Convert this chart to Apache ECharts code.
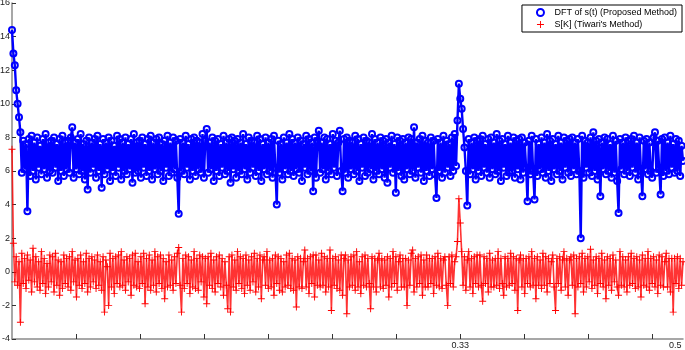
<!DOCTYPE html>
<html>
<head>
<meta charset="utf-8">
<script src="https://cdn.jsdelivr.net/npm/echarts@6/dist/echarts.min.js"></script>
<style>
  html, body { margin: 0; padding: 0; background: #fff; }
  #chart { width: 685px; height: 350px; }
</style>
</head>
<body>
<div id="chart"></div>
<script>
  // DFT of s(t) (Proposed Method)
  var dftValues = [
    14.4, 13.0, 12.3, 10.8, 10.0, 9.2, 8.3, 5.9, 7.8, 6.1, 7.6, 3.6, 7.9, 5.7, 8.1, 6.0, 7.7, 5.5, 8.0, 6.2,
    7.5, 5.8, 7.9, 6.1, 8.2, 5.6, 7.7, 6.0, 7.8, 5.9, 8.0, 6.2, 7.6, 5.4, 7.9, 6.0, 8.1, 5.7, 7.7, 6.1,
    7.8, 5.9, 8.0, 8.6, 5.6, 7.7, 6.1, 7.9, 5.8, 8.2, 6.0, 7.6, 5.5, 7.8, 4.9, 8.0, 5.9, 7.7, 6.2, 7.9,
    5.6, 8.1, 6.0, 7.6, 5.0, 7.9, 5.8, 7.7, 6.1, 8.0, 5.4, 7.8, 6.0, 7.5, 5.7, 8.1, 6.2, 7.9, 5.5, 7.7,
    6.0, 8.0, 5.8, 7.6, 6.1, 7.9, 5.3, 8.2, 5.9, 7.7, 6.0, 7.8, 5.6, 8.0, 6.2, 7.6, 5.7, 7.9, 6.0, 8.1,
    5.5, 7.7, 6.1, 7.9, 5.8, 8.0, 6.0, 7.6, 5.4, 7.8, 6.2, 8.1, 5.7, 7.7, 5.9, 8.0, 6.1, 7.8, 5.6, 3.45,
    7.9, 6.0, 7.7, 5.8, 8.1, 6.2, 7.6, 5.5, 7.9, 6.0, 8.0, 5.7, 7.8, 6.1, 7.7, 5.9, 8.2, 5.6, 7.8, 8.5,
    5.9, 7.7, 6.1, 8.0, 5.4, 7.8, 6.0, 7.9, 5.7, 7.6, 6.2, 8.1, 5.8, 7.7, 6.0, 7.9, 5.3, 8.0, 6.1, 7.8,
    5.6, 7.9, 6.0, 7.7, 5.8, 8.2, 6.1, 7.6, 5.5, 8.0, 5.9, 7.8, 6.2, 7.7, 5.7, 8.1, 6.0, 7.9, 5.4, 7.6,
    6.1, 8.0, 5.8, 7.7, 6.0, 7.9, 5.6, 8.1, 6.2, 4.0, 7.8, 5.9, 7.6, 5.5, 8.0, 6.1, 7.7, 5.8, 8.2, 6.0,
    7.9, 5.7, 7.7, 6.1, 8.0, 5.9, 7.8, 5.4, 7.6, 6.2, 8.1, 5.8, 7.9, 6.0, 7.7, 4.8, 8.0, 5.6, 7.8, 8.4,
    5.9, 7.7, 6.1, 8.0, 5.5, 7.9, 6.0, 7.6, 5.8, 8.2, 6.2, 7.8, 5.7, 7.7, 8.4, 6.0, 4.8, 7.9, 5.9, 8.0,
    5.6, 7.8, 6.1, 7.7, 5.8, 8.1, 6.0, 7.9, 5.4, 7.6, 6.2, 8.0, 5.7, 7.8, 5.9, 7.7, 6.1, 8.2, 5.5, 7.9,
    6.0, 7.7, 5.8, 8.0, 6.1, 7.8, 5.6, 7.9, 5.3, 7.7, 6.2, 8.1, 5.9, 7.6, 4.7, 8.0, 6.0, 7.8, 5.7, 7.9,
    5.5, 7.7, 6.1, 8.0, 5.8, 7.9, 6.0, 8.6, 5.6, 7.7, 6.2, 7.9, 5.9, 8.1, 5.4, 7.8, 6.0, 7.7, 5.7, 8.0,
    6.1, 7.8, 5.8, 4.4, 7.9, 6.0, 7.7, 5.6, 8.1, 5.9, 7.8, 6.2, 7.6, 5.7, 8.0, 6.0, 8.2, 6.3, 9.0, 11.2,
    10.3, 9.7, 8.5, 7.4, 6.0, 3.95, 7.9, 5.8, 7.7, 6.1, 8.0, 5.5, 7.8, 6.0, 7.9, 5.7, 8.1, 6.2, 7.6, 5.9,
    7.9, 5.6, 8.0, 6.1, 7.7, 5.8, 8.2, 6.0, 7.8, 5.4, 7.9, 6.2, 7.6, 5.7, 8.1, 5.9, 7.7, 6.0, 8.0, 5.6,
    7.8, 6.1, 7.9, 5.5, 8.0, 5.9, 7.7, 6.2, 4.2, 7.8, 5.8, 8.1, 6.0, 4.3, 7.9, 5.7, 7.6, 6.1, 8.0, 5.9,
    7.7, 5.6, 8.2, 6.0, 7.8, 5.4, 7.9, 6.1, 7.6, 5.8, 8.1, 6.0, 7.7, 5.5, 8.0, 6.2, 7.8, 5.9, 7.9, 5.7,
    8.0, 6.1, 7.7, 5.8, 7.9, 6.0, 2.0, 8.1, 5.6, 7.8, 6.2, 7.7, 5.9, 8.0, 5.7, 8.3, 6.0, 7.8, 5.5, 7.9,
    4.5, 7.7, 6.1, 8.0, 5.8, 7.9, 6.0, 7.6, 5.6, 8.1, 5.9, 7.8, 5.4, 3.5, 7.9, 6.1, 7.7, 5.8, 8.0, 6.0,
    7.8, 5.7, 7.9, 6.2, 8.1, 5.9, 7.7, 5.5, 8.0, 6.0, 4.5, 7.8, 6.1, 7.9, 5.8, 7.7, 6.0, 5.6, 8.0, 8.3,
    5.9, 7.8, 6.1, 4.6, 7.9, 5.7, 8.0, 6.0, 7.7, 5.8, 8.1, 6.2, 7.6, 5.9, 7.9, 6.0, 7.8, 5.7, 7.5, 6.6
  ];

  // S[K] (Tiwari's Method)
  var skValues = [
    7.3, 1.7, -0.6, 0.9, -0.8, 0.6, -3.0, 1.1, -0.7, 0.8, -1.0, 1.0, -0.5, 0.7, -1.2, 1.4, -0.6, 0.9, -0.9, 0.6,
    -1.1, 1.2, -0.7, 0.8, -1.3, 0.5, -0.9, 1.0, -0.6, 0.9, -1.2, 1.1, -0.8, 0.7, -1.4, 0.6, -1.0, 1.0, -0.7, 0.8,
    -0.9, 0.9, -1.1, 1.2, -0.6, 0.7, -1.5, 0.8, -0.8, 1.0, -1.0, 0.6, -0.7, 1.1, -1.2, 0.8, -0.9, 0.9, -0.6, 0.7,
    -1.0, 1.0, -0.8, 0.6, -1.1, 0.9, -2.4, 0.7, 0.3, -2.0, 1.1, -0.9, 0.8, -1.3, 0.9, -0.7, 1.0, -0.9, 1.2, -0.8,
    0.7, -1.1, 0.9, -0.6, 0.8, -1.4, 1.0, -0.8, 1.1, -0.9, 0.6, -1.0, 0.9, -0.7, 1.1, -1.9, 0.8, -0.9, 1.0, -1.1,
    0.7, -0.8, 1.2, -1.2, 0.9, -0.7, 1.0, -1.0, 0.8, -1.6, 0.6, -0.9, 1.0, -0.8, 0.7, -1.1, 0.9, -0.7, 1.1, 1.45,
    -0.8, -2.4, 0.8, -1.0, 1.0, -0.7, 0.9, -1.3, 0.7, -0.9, 1.2, -1.0, 0.8, -1.1, 1.0, -0.6, 0.9, -1.5, 0.8, -1.9,
    0.9, -0.8, 1.1, -1.0, 0.7, -1.2, 0.9, -0.7, 1.0, -0.9, 0.8, -1.4, 0.6, -0.8, -2.2, 0.9, -2.4, 1.0, -0.9, 0.7,
    -1.1, 1.2, -0.7, 0.9, -1.0, 0.8, -1.3, 1.0, -0.8, 0.7, -1.1, 0.9, -0.6, 1.1, -1.2, 0.8, -0.9, 1.0, -1.6, 0.7,
    0.9, -0.8, 1.2, -1.0, 0.7, -0.9, 0.8, -1.4, 1.0, -0.7, 0.9, -1.1, 0.8, -1.2, 0.6, -0.9, 1.0, -0.8, 1.1, -1.0,
    0.8, -1.1, 0.7, -2.1, 0.9, -0.9, 0.8, -1.0, 0.6, 1.3, -0.9, 0.8, -1.3, 0.9, -0.7, 1.0, -1.5, 1.0, -0.8, 0.7,
    -0.9, 1.1, -0.8, 0.9, -1.2, 0.8, -0.9, 1.3, -2.3, 0.8, -0.8, 0.9, -1.0, 0.7, -1.1, 1.0, -1.4, 0.8, 1.0, -2.5,
    0.7, -0.9, 0.9, -0.8, 1.0, -1.1, 1.2, -0.9, 0.6, -1.3, 0.9, -0.8, 1.0, -0.9, 0.8, -0.7, -2.2, 0.9, -0.9, 0.8,
    -1.2, 0.7, 1.1, -0.9, 0.8, -1.0, 0.7, -0.8, 0.9, -1.5, 0.8, -0.9, 1.2, -0.7, 0.9, -1.1, 0.6, 1.0, -0.9, 0.8,
    -0.9, 0.8, -2.0, 0.7, -0.8, 1.1, 1.3, -1.2, 0.8, -0.9, 0.9, -0.7, 1.0, -1.4, 0.7, -0.9, 1.0, -0.9, 0.8, -0.7,
    0.8, -1.3, 0.9, -0.8, 1.1, -0.9, 0.8, -1.0, 0.7, 0.9, -0.8, -2.0, 0.9, -0.7, 1.0, -0.9, 0.6, 0.9, 1.8, 4.35,
    2.9, 1.2, -0.8, 0.9, -1.1, 0.7, 1.2, -0.9, 0.8, -1.3, 0.9, -0.7, 1.0, -0.9, 1.0, -0.8, -1.75, 0.9, -0.7, 0.8,
    -1.2, 1.1, -0.9, 0.7, -0.9, 0.8, -0.8, 1.2, -1.0, 0.8, -0.7, -1.4, 0.9, -0.9, 0.8, -0.8, 1.1, -0.7, 0.9, -1.1,
    0.8, -2.3, 0.7, 1.0, -0.9, 0.8, -1.3, 0.8, -0.7, 0.9, -0.9, 1.2, -0.8, 0.8, -1.6, 0.9, -0.8, 0.7, -1.0, 1.1,
    -0.8, 0.9, -1.2, 0.8, -0.7, 0.6, 1.0, -0.9, -2.3, 0.8, -0.7, 0.9, -1.1, 0.7, 1.2, -0.9, 0.8, -1.4, 0.7, 0.9,
    -0.8, 1.0, -2.5, 0.8, -0.9, 0.9, -0.7, 1.1, -1.2, 0.8, -0.9, 0.9, -0.6, 1.34, -1.0, 0.7, -0.8, 0.9, -1.3, 0.8,
    -0.7, 1.1, -0.9, 0.7, -1.6, 0.9, -0.8, 0.8, -1.1, 1.0, -0.6, 0.7, -0.9, -1.4, 1.2, -0.8, 0.9, -0.9, 0.7, -1.2,
    0.9, -0.8, 1.1, -0.7, 0.8, -1.0, 0.9, -0.9, 0.7, -1.5, 1.0, -0.8, 0.8, -0.9, 1.2, -1.1, 0.8, -0.7, 0.9, -0.9,
    0.7, -1.3, 1.0, -0.8, 0.9, -0.9, 0.6, 1.1, -0.9, 0.8, -1.2, 0.8, -2.4, 0.8, -0.7, 0.9, -1.0, 0.8, -0.8, 0.6
  ];

  // x axis runs in "tick units" (one unit per tick mark)
  var xMax = 10.48;
  var xTickPositions = [1, 2, 3, 4, 5, 6, 7, 8, 9, 10];
  var xLabelPositions = [7, 10.36];
  var xLabelTexts = ['0.33', '0.5'];

  var seriesNames = ['DFT of s(t) (Proposed Method)', "S[K] (Tiwari's Method)"];

  function toPoints(values) {
    var n = values.length;
    return values.map(function (v, i) {
      return [i * xMax / (n - 1), v];
    });
  }

  var plusPath = 'path://M2.6,0h0.8v6h-0.8z M0,2.6h6v0.8h-6z';

  var chart = echarts.init(document.getElementById('chart'));

  chart.setOption({
    animation: false,
    backgroundColor: '#fff',
    grid: {
      left: 12,
      right: 2,
      top: 3,
      bottom: 11,
      containLabel: false,
      outerBoundsMode: 'none'
    },
    legend: {
      orient: 'vertical',
      right: 3,
      top: 5,
      padding: [3, 5, 3, 14],
      itemGap: 3,
      itemWidth: 14,
      itemHeight: 7,
      backgroundColor: '#fff',
      borderColor: '#000',
      borderWidth: 1,
      borderRadius: 0,
      textStyle: {
        fontFamily: 'Liberation Sans',
        fontSize: 9,
        color: '#000',
        padding: [0, 0, 0, 2]
      },
      data: [
        {
          name: seriesNames[0],
          icon: 'circle',
          itemStyle: { color: '#fff', borderColor: '#0000ff', borderWidth: 2 }
        },
        {
          name: seriesNames[1],
          icon: plusPath,
          itemStyle: { color: '#ff0000', borderWidth: 0 }
        }
      ]
    },
    xAxis: {
      type: 'value',
      min: 0,
      max: xMax,
      splitLine: { show: false },
      axisLine: { onZero: false, lineStyle: { color: '#8a8a8a', width: 1.5 } },
      axisTick: {
        inside: true,
        length: 5,
        customValues: xTickPositions,
        lineStyle: { color: '#333' }
      },
      axisLabel: {
        customValues: xLabelPositions,
        fontFamily: 'Liberation Sans',
        fontSize: 9,
        color: '#222',
        margin: 2,
        formatter: function (v) {
          for (var i = 0; i < xLabelPositions.length; i++) {
            if (Math.abs(xLabelPositions[i] - v) < 1e-6) return xLabelTexts[i];
          }
          return '';
        }
      }
    },
    yAxis: {
      type: 'value',
      min: -4,
      max: 16,
      interval: 2,
      splitLine: { show: false },
      axisLine: { show: true, onZero: false, lineStyle: { color: '#8a8a8a', width: 1.5 } },
      axisTick: { show: true, inside: true, length: 4, lineStyle: { color: '#333' } },
      axisLabel: {
        fontFamily: 'Liberation Sans',
        fontSize: 9,
        color: '#222',
        margin: 2
      }
    },
    series: [
      {
        name: seriesNames[0],
        type: 'line',
        data: toPoints(dftValues),
        symbol: 'circle',
        symbolSize: 6,
        showAllSymbol: true,
        color: '#0000ff',
        itemStyle: { color: 'rgba(0,0,255,0)', borderColor: '#0000ff', borderWidth: 2 },
        lineStyle: { color: '#0000ff', width: 2.4 }
      },
      {
        name: seriesNames[1],
        type: 'line',
        data: toPoints(skValues),
        symbol: plusPath,
        symbolSize: 7,
        showAllSymbol: true,
        color: '#ff0000',
        itemStyle: { color: '#ff0000', borderWidth: 0 },
        lineStyle: { color: '#ff0000', width: 1.6, opacity: 0.8 }
      }
    ]
  });
</script>
</body>
</html>
